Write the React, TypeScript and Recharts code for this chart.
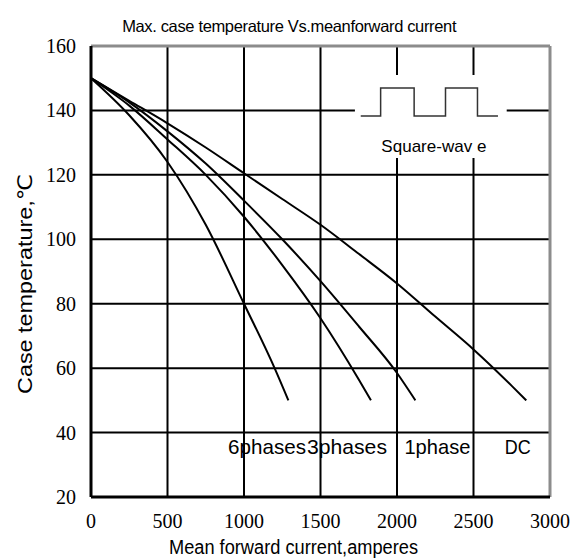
import React from "react";
import { LineChart, Line, XAxis, YAxis, ReferenceLine, ReferenceDot } from "recharts";

const X_TICKS = [0, 500, 1000, 1500, 2000, 2500, 3000];
const Y_TICKS = [20, 40, 60, 80, 100, 120, 140, 160];

// mean forward current (A) / max case temperature (°C)
const current6ph = [0, 250, 500, 750, 1000, 1200, 1290];
const temp6ph = [150, 138.5, 124, 104.5, 80, 60, 50];

const current3ph = [0, 250, 500, 750, 1000, 1250, 1500, 1750, 1830];
const temp3ph = [150, 141.5, 131, 120, 107, 92, 75.5, 56.5, 50];

const current1ph = [0, 250, 500, 750, 1000, 1250, 1500, 1750, 2000, 2120];
const temp1ph = [150, 142.5, 133.5, 123.5, 112, 100, 87, 73, 58.5, 50];

const currentDC = [0, 250, 500, 750, 1000, 1250, 1500, 1750, 2000, 2250, 2500, 2750, 2845];
const tempDC = [150, 143, 136, 128.5, 120.5, 112.5, 104.5, 95.5, 86.3, 76, 65.8, 54.5, 50];

// little square-wave sketch in the top right corner
const squareX = [1763, 1893, 1893, 2112, 2112, 2317, 2317, 2526, 2526, 2660];
const squareY = [138.3, 138.3, 147, 147, 138.3, 138.3, 147, 147, 138.3, 138.3];

const SERIES_NAMES = ["6phases", "3phases", "1phase", "DC"];

const toPoints = (xs: number[], ys: number[]) => xs.map((x, i) => ({ x, y: ys[i] }));

const SERIES = [
  toPoints(current6ph, temp6ph),
  toPoints(current3ph, temp3ph),
  toPoints(current1ph, temp1ph),
  toPoints(currentDC, tempDC),
];

const SANS = "'Liberation Sans', Arial, 'DejaVu Sans', 'Noto Sans CJK SC', sans-serif";
const SERIF = "'Liberation Serif', 'Times New Roman', serif";

// layout of the free texts, in data units
const NAME_POS = [1151, 1673, 2264, 2789];
const NAME_WIDTH = [78, 80, 66, 26];
const NAME_Y = 33.3;

// box left free for the square-wave sketch
const BOX = { x1: 1725, x2: 2717, y1: 125.2, y2: 151 };

function XTick({ x, y, payload }: any) {
  const s = String(payload.value);
  return (
    <text x={x} y={y + 31} textAnchor="middle" fontFamily={SERIF} fontSize={22} fill="#000"
      textLength={s.length * 10} lengthAdjust="spacingAndGlyphs">
      {s}
    </text>
  );
}

function YTick({ x, y, payload }: any) {
  const s = String(payload.value);
  return (
    <text x={x - 15} y={y + 7} textAnchor="end" fontFamily={SERIF} fontSize={22} fill="#000"
      textLength={s.length * 10} lengthAdjust="spacingAndGlyphs">
      {s}
    </text>
  );
}

function textAt(text: string, size: number, dy: number, width?: number, spacing?: number) {
  return (p: any) => {
    const vb = p.viewBox || { x: 0, y: 0, width: 0, height: 0 };
    return (
      <text x={vb.x + vb.width / 2} y={vb.y + vb.height / 2 + dy} textAnchor="middle"
        fontFamily={SANS} fontSize={size} fill="#000" letterSpacing={spacing}
        textLength={width} lengthAdjust={width ? "spacingAndGlyphs" : undefined}>
        {text}
      </text>
    );
  };
}

function XLabel(p: any) {
  const vb = p.viewBox;
  return (
    <text x={vb.x + 202.5} y={vb.y + 57} textAnchor="middle" fontFamily={SANS} fontSize={20}
      fill="#000" textLength={249} lengthAdjust="spacingAndGlyphs">
      Mean forward current,amperes
    </text>
  );
}

function YLabel(p: any) {
  const vb = p.viewBox;
  const cx = vb.x + 25;
  const cy = vb.y + 238;
  return (
    <text x={cx} y={cy} transform={`rotate(-90, ${cx}, ${cy})`} textAnchor="middle"
      dominantBaseline="central" fontFamily={SANS} fontSize={20} fill="#000"
      textLength={220} lengthAdjust="spacingAndGlyphs">
      Case temperature,℃
    </text>
  );
}

export default function App() {
  const gridStyle = { stroke: "#000", strokeWidth: 2 };
  const borderStyle = { stroke: "#8c8c8c", strokeWidth: 3 };

  return (
    <div style={{ position: "absolute", left: 0, top: 0, width: 584, height: 560, background: "#fff" }}>
      <LineChart width={584} height={560} margin={{ top: 46, right: 34, bottom: 0, left: 0 }}>
        <XAxis type="number" dataKey="x" domain={[0, 3000]} ticks={X_TICKS} height={63}
          tickSize={0} tickMargin={0} tickLine={false} tick={<XTick />}
          axisLine={{ stroke: "#000", strokeWidth: 3 }} label={XLabel} />
        <YAxis type="number" dataKey="y" domain={[20, 160]} ticks={Y_TICKS} width={91}
          tickSize={0} tickMargin={0} tickLine={false} tick={<YTick />}
          axisLine={{ stroke: "#000", strokeWidth: 3 }} label={YLabel} />

        {[40, 60, 80, 100, 120].map((v) => (
          <ReferenceLine key={`h${v}`} y={v} {...gridStyle} />
        ))}
        <ReferenceLine segment={[{ x: 0, y: 140 }, { x: BOX.x1, y: 140 }]} {...gridStyle} />
        <ReferenceLine segment={[{ x: BOX.x2, y: 140 }, { x: 3000, y: 140 }]} {...gridStyle} />
        {[500, 1000, 1500].map((v) => (
          <ReferenceLine key={`v${v}`} x={v} {...gridStyle} />
        ))}
        {[2000, 2500].map((v) => (
          <React.Fragment key={`vs${v}`}>
            <ReferenceLine segment={[{ x: v, y: 20 }, { x: v, y: BOX.y1 }]} {...gridStyle} />
            <ReferenceLine segment={[{ x: v, y: BOX.y2 }, { x: v, y: 160 }]} {...gridStyle} />
          </React.Fragment>
        ))}
        <ReferenceLine y={160} ifOverflow="visible" {...borderStyle} />
        <ReferenceLine x={3000} ifOverflow="visible" {...borderStyle} />

        {SERIES.map((pts, i) => (
          <Line key={SERIES_NAMES[i]} data={pts} dataKey="y" type="monotone" stroke="#000"
            strokeWidth={2} dot={false} activeDot={false} isAnimationActive={false} />
        ))}
        <Line data={toPoints(squareX, squareY)} dataKey="y" type="linear" stroke="#333"
          strokeWidth={1.5} dot={false} activeDot={false} isAnimationActive={false} />

        {SERIES_NAMES.map((name, i) => (
          <ReferenceDot key={`lbl${name}`} x={NAME_POS[i]} y={NAME_Y} r={0} fill="none" stroke="none"
            label={textAt(name, 21, 0, NAME_WIDTH[i])} />
        ))}
        <ReferenceDot x={2241} y={127.1} r={0} fill="none" stroke="none"
          label={textAt("Square-wav e", 17, 0, 105)} />
        <ReferenceDot x={1295} y={160} r={0} fill="none" stroke="none" ifOverflow="visible"
          label={textAt("Max. case temperature Vs.meanforward current", 16.5, -14, undefined, -0.35)} />
      </LineChart>
    </div>
  );
}
